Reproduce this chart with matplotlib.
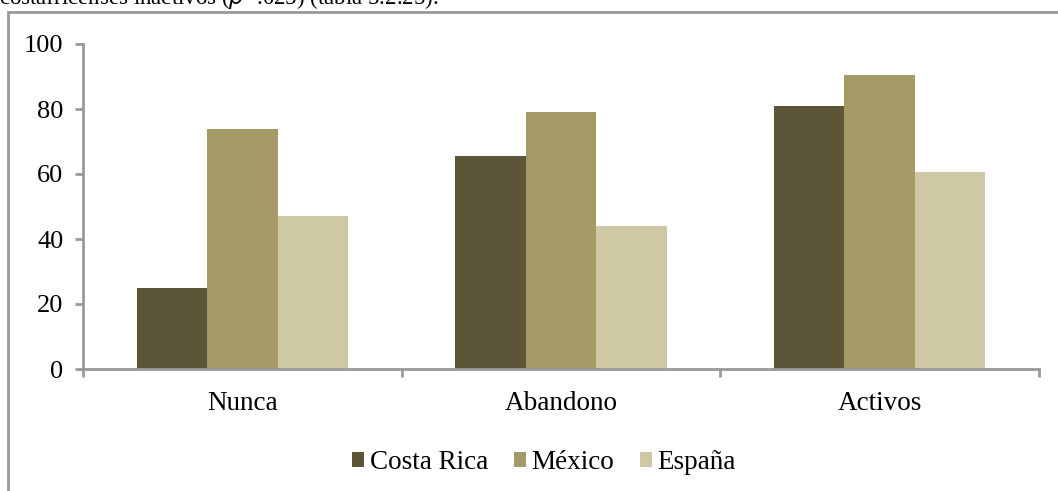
import matplotlib.pyplot as plt
import matplotlib.patches as mpatches
import numpy as np

categories = ["Nunca", "Abandono", "Activos"]
series = ["Costa Rica", "México", "España"]
costa_rica = [25, 65.5, 81]
mexico = [74, 79, 90.5]
espana = [47, 44, 60.5]
colors = ["#5C5537", "#A59A66", "#CFC8A5"]
yticks = [0, 20, 40, 60, 80, 100]

plt.rcParams['font.family'] = ['Liberation Serif', 'DejaVu Serif']

fig = plt.figure(figsize=(10.58, 4.91), dpi=100)
ax = fig.add_axes([83/1058, 1 - 369/491, (1039 - 83)/1058, (369 - 44)/491])

# outer frame of the embedded chart (cut off at right and bottom)
fig.patches.append(mpatches.Rectangle((8/1058, -0.1), 1.2, 1 - 12/491 + 0.1,
                                      transform=fig.transFigure, fill=False,
                                      edgecolor="#999999", linewidth=2))

# caption text cut off at the top of the page
fig.text(-1/1058, 1 - 4/491, "costarricenses inactivos ($p$=.025) (tabla 5.2.25).",
         fontsize=16.5, va="baseline", ha="left")

x = np.arange(len(categories))
w = 0.221
for i, (vals, name) in enumerate(zip([costa_rica, mexico, espana], series)):
    ax.bar(x + (i - 1) * w, vals, width=w, color=colors[i], label=name)

ax.set_xlim(-0.5, 2.5)
ax.set_ylim(0, 100)
ax.set_yticks(yticks)
ax.set_xticks(x)
ax.set_xticklabels(categories)
ax.set_xticks([-0.5, 0.5, 1.5, 2.5], minor=True)

for s in ["top", "right"]:
    ax.spines[s].set_visible(False)
for s in ["left", "bottom"]:
    ax.spines[s].set_color("#999999")
    ax.spines[s].set_linewidth(2)

ax.tick_params(axis="y", direction="out", length=6, width=2, color="#999999",
               labelsize=19, pad=8)
ax.tick_params(axis="x", which="major", length=0, labelsize=19.5, pad=16)
ax.tick_params(axis="x", which="minor", direction="out", length=6, width=2,
               color="#999999")

ax.legend(loc="upper center", bbox_to_anchor=(0.482, -0.175), ncol=3, frameon=False,
          fontsize=19.5, handlelength=0.45, handleheight=0.45, handletextpad=0.2,
          columnspacing=0.95)

fig.savefig("out.png", dpi=100)
